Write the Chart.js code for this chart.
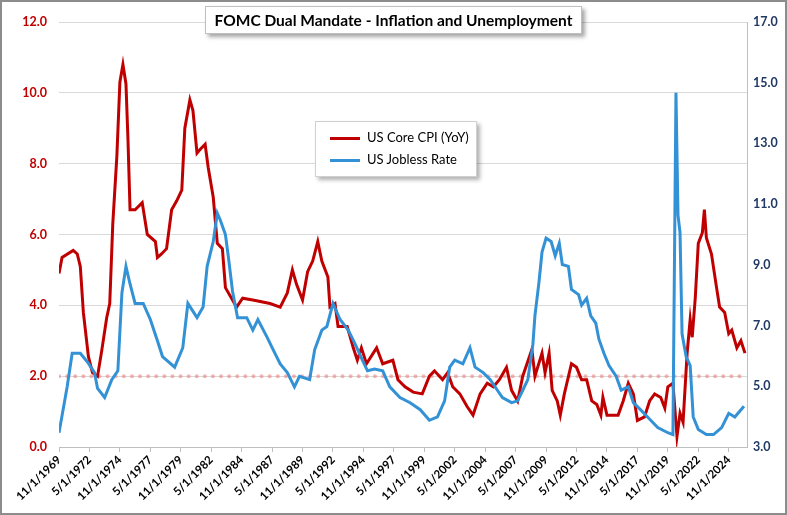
<!DOCTYPE html>
<html><head><meta charset="utf-8">
<script src="https://cdn.jsdelivr.net/npm/chart.js@4"></script>
<style>
html,body{margin:0;padding:0;background:#fff;}
#wrap{position:relative;width:787px;height:515px;font-family:Lato,"Open Sans",sans-serif;}
#frame{position:absolute;left:0;top:0;width:783px;height:511px;border:2px solid #8c8c8c;pointer-events:none;}
#title{position:absolute;left:205px;top:6px;width:375px;height:26px;border:1px solid #bfbfbf;background:#fff;box-shadow:3px 3px 4px rgba(0,0,0,0.35);font-weight:bold;font-size:15.5px;line-height:26px;text-align:center;color:#000;}
#legend{position:absolute;left:315px;top:121px;width:160px;height:54px;border:1px solid #d0d0d0;background:#fff;box-shadow:3px 3px 4px rgba(0,0,0,0.3);font-size:13px;color:#000;}
.li{position:absolute;left:14px;height:16px;line-height:16px;}
.sw{display:inline-block;width:30px;height:3px;vertical-align:middle;margin-right:7px;}
</style></head>
<body><div id="wrap"><canvas id="c" width="787" height="515"></canvas>
<div id="title">FOMC Dual Mandate - Inflation and Unemployment</div>
<div id="legend"><div class="li" style="top:7px"><span class="sw" style="background:#C00000"></span>US Core CPI (YoY)</div><div class="li" style="top:29px"><span class="sw" style="background:#3391D5"></span>US Jobless Rate</div></div>
<div id="frame"></div></div>
<script>
// months since 11/1969
const cpiMonths=[0,3,14,18,21,24,29,33,38,42,47,50,53,57,60,63,66,68,70,75,82,87,95,97,101,106,111,116,121,124,129,132,136,139,144,147,152,156,161,164,170,175,181,191,208,218,225,230,234,240,245,250,255,259,265,267,272,275,284,290,294,298,303,313,319,329,334,341,349,358,365,370,378,383,388,395,402,408,415,422,428,434,441,446,452,457,466,469,476,479,483,486,491,494,498,505,510,515,520,525,530,534,536,540,551,556,561,566,570,577,582,587,593,597,600,605,609,612,615,619,622,624,627,630,634,636,638,643,648,651,656,660,663,668,672,676];
const cpiValues=[4.9,5.35,5.55,5.45,5.1,3.8,2.55,2.1,2.0,2.7,3.65,4.05,6.3,8.2,10.3,10.8,10.25,8.65,6.7,6.7,6.9,6.0,5.8,5.35,5.45,5.6,6.7,6.95,7.25,9.0,9.8,9.5,8.3,8.4,8.55,7.9,7.05,5.75,5.6,4.5,4.2,3.95,4.2,4.15,4.05,3.95,4.35,5.0,4.6,4.15,4.95,5.25,5.8,5.25,4.8,3.95,4.05,3.4,3.4,2.8,2.45,2.8,2.35,2.8,2.35,2.45,1.9,1.7,1.55,1.5,2.0,2.15,1.9,2.1,1.7,1.5,1.15,0.9,1.5,1.8,1.7,1.9,2.25,1.6,1.3,2.0,2.75,2.0,2.65,2.1,2.65,1.6,1.3,0.9,1.5,2.35,2.25,1.9,1.9,1.3,1.2,0.9,1.4,0.9,0.9,1.3,1.8,1.5,0.75,0.85,1.3,1.5,1.4,1.1,1.7,1.8,0.3,0.95,0.7,2.65,3.6,3.1,4.2,5.75,6.05,6.7,5.9,5.45,4.5,3.95,3.8,3.2,3.3,2.8,3.0,2.65];
const jobMonths=[0,8,13,21,28,35,38,45,52,58,62,66,70,75,83,90,97,102,114,122,127,136,142,146,152,156,159,164,167,171,176,185,191,196,205,211,218,225,232,237,247,252,259,264,270,277,285,292,299,304,311,319,326,336,346,356,365,373,380,385,390,398,405,410,418,425,432,437,446,452,457,462,467,469,473,476,480,485,489,493,496,502,505,512,515,520,524,529,532,537,542,549,554,561,566,573,580,590,600,605,608,610,612,614,618,622,625,630,638,645,653,660,666,675];
const jobValues=[3.47,4.98,6.09,6.09,5.8,5.45,4.93,4.63,5.22,5.51,8.08,8.95,8.37,7.73,7.73,7.2,6.5,5.98,5.63,6.27,7.73,7.26,7.61,8.95,9.77,10.7,10.47,10.0,9.24,8.13,7.26,7.26,6.85,7.2,6.62,6.21,5.74,5.45,4.98,5.33,5.22,6.21,6.85,6.97,7.73,7.2,6.85,6.38,5.86,5.51,5.57,5.51,4.98,4.63,4.46,4.23,3.88,3.99,4.52,5.63,5.86,5.74,6.27,5.63,5.45,5.22,4.87,4.63,4.46,4.52,4.87,5.22,6.38,7.32,8.43,9.42,9.88,9.77,9.3,9.71,9.01,8.95,8.19,8.02,7.67,7.9,7.32,7.08,6.56,6.09,5.68,5.33,4.87,4.98,4.46,4.23,3.99,3.64,3.47,3.41,14.67,10.64,10.06,6.73,5.98,5.68,3.99,3.58,3.41,3.41,3.64,4.11,3.99,4.34];
const tickLabels=["11/1/1969","5/1/1972","11/1/1974","5/1/1977","11/1/1979","5/1/1982","11/1/1984","5/1/1987","11/1/1989","5/1/1992","11/1/1994","5/1/1997","11/1/1999","5/1/2002","11/1/2004","5/1/2007","11/1/2009","5/1/2012","11/1/2014","5/1/2017","11/1/2019","5/1/2022","11/1/2024"];
const targetValue=2.0;

const pts=(xs,ys)=>xs.map((x,i)=>({x,y:ys[i]}));
new Chart(document.getElementById('c'),{
 type:'line',
 data:{datasets:[
  {data:pts(cpiMonths,cpiValues),borderColor:'#C00000',borderWidth:3,pointRadius:0,yAxisID:'y',tension:0,order:2},
  {data:pts(jobMonths,jobValues),borderColor:'#3391D5',borderWidth:3,pointRadius:0,yAxisID:'y2',tension:0,order:1},
  {data:[{x:0,y:targetValue},{x:678,y:targetValue}],borderColor:'rgba(235,120,120,0.55)',borderWidth:4,borderDash:[0.1,8],borderCapStyle:'round',pointRadius:0,yAxisID:'y',order:3}
 ]},
 options:{responsive:false,animation:false,
  layout:{padding:{top:22,left:0,right:0,bottom:0}},
  plugins:{legend:{display:false},tooltip:{enabled:false}},
  scales:{
   x:{type:'linear',min:0,max:678,
     afterBuildTicks:s=>{s.ticks=tickLabels.map((_,i)=>({value:i*30}));},
     afterFit:s=>{s.height=68;},
     grid:{drawOnChartArea:false,color:'#bfbfbf',tickLength:5},
     border:{color:'#bfbfbf'},
     ticks:{autoSkip:false,maxRotation:45,minRotation:45,color:'#000',font:{family:'Lato',weight:'bold',size:11.5},padding:1,
       callback:(v)=>tickLabels[Math.round(v/30)]}},
   y:{position:'left',min:0,max:12,afterFit:s=>{s.width=59;},
     ticks:{stepSize:2,color:'#C00000',font:{family:'Lato',weight:'bold',size:12.5},padding:12,callback:v=>v.toFixed(1)},
     grid:{color:'#d9d9d9',drawTicks:false},border:{display:false}},
   y2:{position:'right',min:3,max:17,afterFit:s=>{s.width=40;},
     ticks:{stepSize:2,color:'#1F3864',font:{family:'Lato',weight:'bold',size:12.5},padding:6,callback:v=>v.toFixed(1)},
     grid:{drawOnChartArea:false,drawTicks:false},border:{color:'#bfbfbf'}}
  }}
});
</script></body></html>
